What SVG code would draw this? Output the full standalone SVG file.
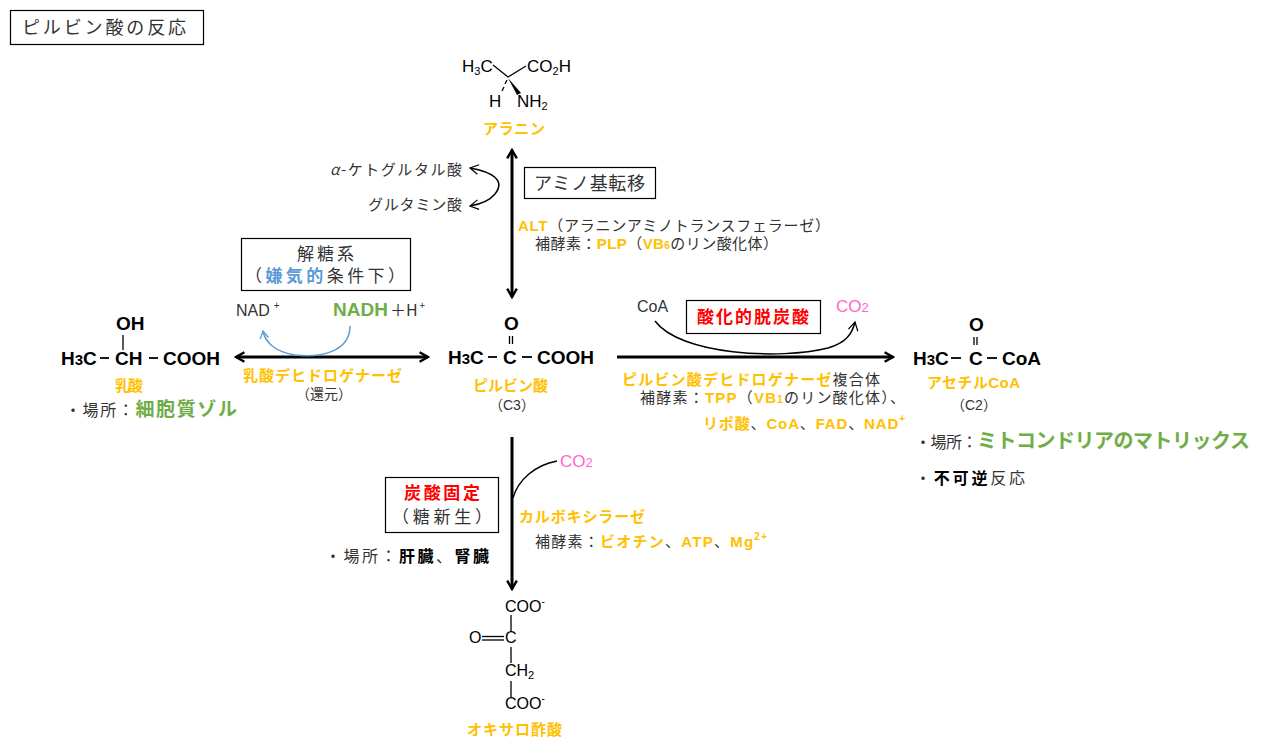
<svg xmlns="http://www.w3.org/2000/svg" width="1273" height="750" viewBox="0 0 1273 750">
<style>
text{font-family:"Noto Sans CJK JP","Liberation Sans",sans-serif;fill:#333}
.j{font-size:15px}
.jl{font-size:16px}
.o{fill:#FFC000;font-weight:bold}
.g{fill:#70AD47;font-weight:bold}
.b{fill:#5B9BD5;font-weight:bold}
.p{fill:#FF66CC;font-family:"Liberation Sans",Arial,sans-serif}
.r{fill:#FF0000;font-weight:bold}
.k{fill:#000;font-weight:bold}
.lat{font-family:"Liberation Sans",Arial,sans-serif}
.chem{font-family:"Liberation Sans",Arial,sans-serif;font-weight:bold;font-size:19px;fill:#000}
.al{font-family:"Liberation Sans",Arial,sans-serif;font-size:17px;fill:#000}
.ox{font-family:"Liberation Sans",Arial,sans-serif;font-size:16px;fill:#000}
.box{fill:#fff;stroke:#000;stroke-width:1.2}
.bond{stroke:#000;stroke-width:1.3;fill:none}
.dash{stroke:#000;stroke-width:1.8;fill:none}
.arr{stroke:#000;stroke-width:3;fill:none}
.thin{stroke:#000;stroke-width:1.5;fill:none}
</style>
<defs>
<marker id="ah" viewBox="0 0 10 10" refX="8" refY="5" markerWidth="4" markerHeight="4" orient="auto-start-reverse"><path d="M1,1 L8,5 L1,9" fill="none" stroke="#000" stroke-width="2"/></marker>
<marker id="ahs" viewBox="0 0 10 10" refX="8" refY="5" markerWidth="8" markerHeight="8" orient="auto-start-reverse"><path d="M1,1 L8,5 L1,9" fill="none" stroke="#000" stroke-width="1"/></marker>
<marker id="ahb" viewBox="0 0 10 10" refX="8" refY="5" markerWidth="7" markerHeight="7" orient="auto"><path d="M1,1 L8,5 L1,9" fill="none" stroke="#5B9BD5" stroke-width="1.2"/></marker>
</defs>

<g id="title">
<rect class="box" x="10.5" y="10.5" width="193" height="34"/>
<text x="22" y="34" font-size="18" textLength="164" lengthAdjust="spacing">ピルビン酸の反応</text>
</g>

<g id="alanine">
<text class="al" x="462" y="72">H<tspan font-size="11" dy="3">3</tspan><tspan dy="-3">C</tspan></text>
<text class="al" x="527" y="72">CO<tspan font-size="11" dy="3">2</tspan><tspan dy="-3">H</tspan></text>
<text class="al" x="489" y="107">H</text>
<text class="al" x="517" y="107">NH<tspan font-size="11" dy="3">2</tspan></text>
<path class="bond" d="M493,65 L508,77 L526,66"/>
<path d="M508,78 L521,93 L517,95 Z" fill="#000"/>
<path class="bond" d="M507,80 L505,84 M504,87 L502,91" stroke-width="1.8"/>
<text class="o" x="483" y="134" font-size="15" textLength="62" lengthAdjust="spacing">アラニン</text>
</g>

<g id="transamination">
<text class="j" x="330" y="175" textLength="132" lengthAdjust="spacing"><tspan font-style="italic">α</tspan>-ケトグルタル酸</text>
<text class="j" x="368" y="210" textLength="94" lengthAdjust="spacing">グルタミン酸</text>
<rect class="box" x="524.5" y="167.5" width="131" height="31"/>
<text x="534" y="190" font-size="18" textLength="111" lengthAdjust="spacing">アミノ基転移</text>
<text x="518" y="231" class="j" textLength="312" lengthAdjust="spacing"><tspan class="o lat">ALT</tspan>（アラニンアミノトランスフェラーゼ）</text>
<text x="535" y="249" class="j" textLength="243" lengthAdjust="spacing">補酵素：<tspan class="o lat">PLP</tspan>（<tspan class="o lat">VB<tspan font-size="10">6</tspan></tspan>のリン酸化体）</text>
</g>

<g id="glycolysis">
<rect class="box" x="241.5" y="238.5" width="169" height="52"/>
<text x="297" y="260" font-size="17" textLength="57" lengthAdjust="spacing">解糖系</text>
<text x="245" y="282" font-size="17" textLength="160" lengthAdjust="spacing">（<tspan class="b">嫌気的</tspan>条件下）</text>
<text x="236" y="316" font-size="16" class="lat">NAD<tspan font-size="10" dx="4" dy="-7">+</tspan></text>
<text x="333" y="316" font-size="16"><tspan class="g lat" font-size="19">NADH</tspan><tspan dx="2">＋H</tspan><tspan font-size="10" dx="2" dy="-7">+</tspan></text>
</g>

<g id="lactate">
<text class="chem" x="116" y="330">OH</text>
<line class="bond" x1="123" y1="335" x2="123" y2="350"/>
<text class="chem" x="61" y="365">H<tspan font-size="15">3</tspan>C</text>
<line class="dash" x1="100" y1="358" x2="109" y2="358"/>
<text class="chem" x="115" y="365">CH</text>
<line class="dash" x1="149" y1="358" x2="158" y2="358"/>
<text class="chem" x="163" y="365">COOH</text>
<text class="o" x="115" y="391" font-size="15" textLength="28" lengthAdjust="spacing">乳酸</text>
<text x="65" y="416" class="jl" textLength="172" lengthAdjust="spacing">・場所：<tspan class="g" font-size="19">細胞質ゾル</tspan></text>
</g>

<g id="pyruvate">
<text class="chem" x="504" y="330">O</text>
<line class="bond" x1="509.5" y1="336" x2="509.5" y2="344"/>
<line class="bond" x1="512.5" y1="336" x2="512.5" y2="344"/>
<text class="chem" x="448" y="364">H<tspan font-size="15">3</tspan>C</text>
<line class="dash" x1="488" y1="357" x2="497" y2="357"/>
<text class="chem" x="503" y="364">C</text>
<line class="dash" x1="522" y1="357" x2="532" y2="357"/>
<text class="chem" x="537" y="364">COOH</text>
<text class="o" x="473" y="391" font-size="15" textLength="75" lengthAdjust="spacing">ピルビン酸</text>
<text x="489" y="410" font-size="14">（<tspan class="lat">C3</tspan>）</text>
</g>

<g id="acetylcoa">
<text class="chem" x="969" y="331">O</text>
<line class="bond" x1="974" y1="337" x2="974" y2="345"/>
<line class="bond" x1="977" y1="337" x2="977" y2="345"/>
<text class="chem" x="913" y="365">H<tspan font-size="15">3</tspan>C</text>
<line class="dash" x1="951" y1="358" x2="961" y2="358"/>
<text class="chem" x="969" y="365">C</text>
<line class="dash" x1="987" y1="358" x2="997" y2="358"/>
<text class="chem" x="1002" y="365">CoA</text>
<text class="o" x="927" y="388" font-size="15" textLength="93" lengthAdjust="spacing">アセチル<tspan class="lat">CoA</tspan></text>
<text x="951" y="410" font-size="14">（<tspan class="lat">C2</tspan>）</text>
<text x="915" y="448" class="jl" textLength="335" lengthAdjust="spacing">・場所：<tspan class="g" font-size="20">ミトコンドリアのマトリックス</tspan></text>
<text x="915" y="484" class="jl" textLength="110" lengthAdjust="spacing">・<tspan class="k">不可逆</tspan>反応</text>
</g>

<g id="pdh">
<text x="637" y="312" font-size="16" class="lat">CoA</text>
<rect class="box" x="686.5" y="300.5" width="134" height="33"/>
<text x="697" y="323" font-size="17" class="r" textLength="112" lengthAdjust="spacing">酸化的脱炭酸</text>
<text x="836" y="312" font-size="17" class="p">CO<tspan font-size="13">2</tspan></text>
<text x="622" y="385" class="j" textLength="258" lengthAdjust="spacing"><tspan class="o">ピルビン酸デヒドロゲナーゼ</tspan>複合体</text>
<text x="640" y="403" class="j" textLength="265" lengthAdjust="spacing">補酵素：<tspan class="o lat">TPP</tspan>（<tspan class="o lat">VB<tspan font-size="10">1</tspan></tspan>のリン酸化体）、</text>
<text x="703" y="429" class="j" textLength="202" lengthAdjust="spacing"><tspan class="o">リポ酸</tspan>、<tspan class="o lat">CoA</tspan>、<tspan class="o lat">FAD</tspan>、<tspan class="o lat">NAD<tspan font-size="10" dy="-7">+</tspan></tspan></text>
</g>

<g id="ldh">
<text class="o" x="243" y="381" font-size="15" textLength="159" lengthAdjust="spacing">乳酸デヒドロゲナーゼ</text>
<text x="296" y="399" font-size="14">（還元）</text>
</g>

<g id="carboxylation">
<text x="560" y="467" font-size="17" class="p">CO<tspan font-size="13">2</tspan></text>
<rect class="box" x="385.5" y="477.5" width="113" height="55"/>
<text x="404" y="499" font-size="17" class="r" textLength="76" lengthAdjust="spacing">炭酸固定</text>
<text x="392" y="523" font-size="17" textLength="100" lengthAdjust="spacing">（糖新生）</text>
<text x="325" y="562" class="jl" textLength="164" lengthAdjust="spacing">・場所：<tspan class="k">肝臓</tspan>、<tspan class="k">腎臓</tspan></text>
<text class="o" x="519" y="522" font-size="15" textLength="126" lengthAdjust="spacing">カルボキシラーゼ</text>
<text x="535" y="547" class="j" textLength="232" lengthAdjust="spacing">補酵素：<tspan class="o">ビオチン</tspan>、<tspan class="o lat">ATP</tspan>、<tspan class="o lat">Mg<tspan font-size="10" dy="-7">2+</tspan></tspan></text>
</g>

<g id="oxaloacetate">
<text class="ox" x="505" y="612">COO<tspan font-size="10" dy="-7">-</tspan></text>
<line class="bond" x1="511" y1="615" x2="511" y2="631"/>
<text class="ox" x="469" y="643">O</text>
<line class="bond" x1="482" y1="636.5" x2="504" y2="636.5"/>
<line class="bond" x1="482" y1="640" x2="504" y2="640"/>
<text class="ox" x="505" y="643">C</text>
<line class="bond" x1="511" y1="647" x2="511" y2="663"/>
<text class="ox" x="505" y="676">CH<tspan font-size="11" dy="3">2</tspan></text>
<line class="bond" x1="511" y1="681" x2="511" y2="697"/>
<text class="ox" x="505" y="709">COO<tspan font-size="10" dy="-7">-</tspan></text>
<text class="o" x="467" y="735" font-size="15" textLength="95" lengthAdjust="spacing">オキサロ酢酸</text>
</g>

<g id="connectors">
<line class="arr" x1="512" y1="150" x2="512" y2="297" marker-start="url(#ah)" marker-end="url(#ah)"/>
<path class="thin" d="M470,168 C492,172 506,180 495,194 C490,200 482,204 470,206" marker-start="url(#ahs)" marker-end="url(#ahs)"/>
<line class="arr" x1="236" y1="357" x2="428" y2="357" marker-start="url(#ah)" marker-end="url(#ah)"/>
<path d="M350,326 C350,352 320,358 295,355 C275,352 265,342 263,331" fill="none" stroke="#5B9BD5" stroke-width="1.5" marker-end="url(#ahb)"/>
<line class="arr" x1="617" y1="357" x2="893" y2="357" marker-end="url(#ah)"/>
<path class="thin" d="M655,321 C680,355 780,360 828,348 C845,343 852,335 855,322" marker-end="url(#ahs)"/>
<line class="arr" x1="512" y1="437" x2="512" y2="589" marker-end="url(#ah)"/>
<path class="thin" d="M557,461 C535,465 518,480 513,498"/>
</g>
</svg>
